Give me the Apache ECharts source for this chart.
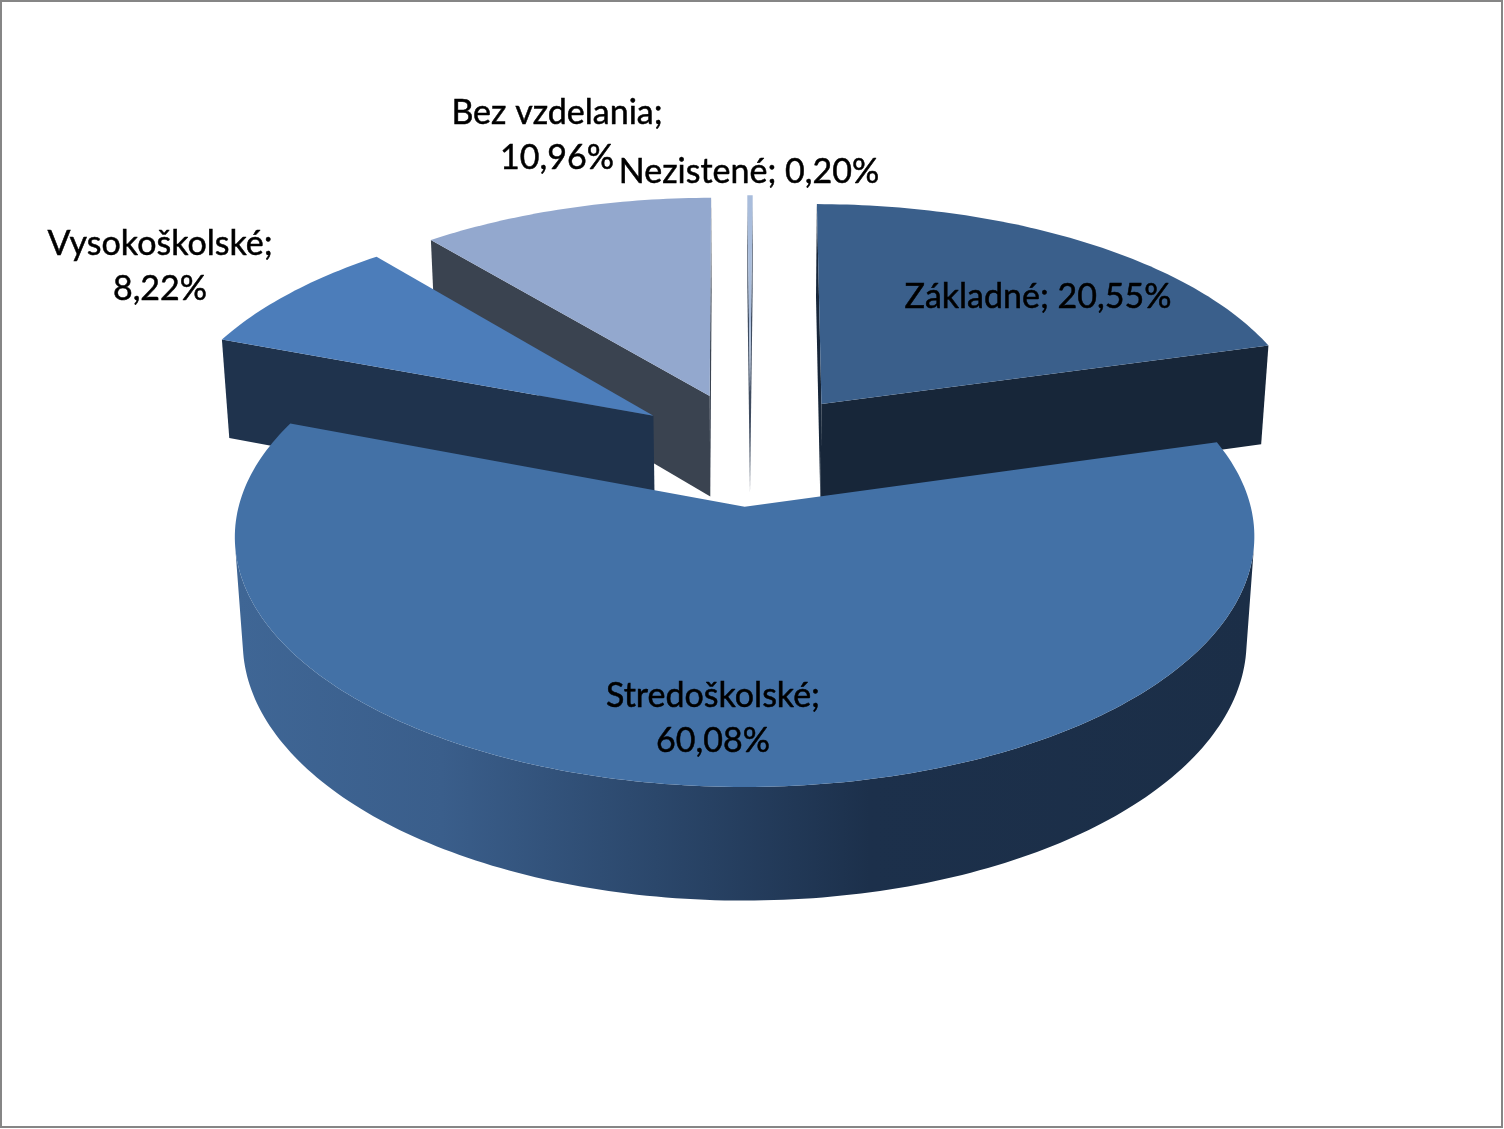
<!DOCTYPE html>
<html>
<head>
<meta charset="utf-8">
<style>html,body{margin:0;padding:0;background:#fff}#c{width:1504px;height:1129px}</style>
<script src="https://cdn.jsdelivr.net/npm/echarts@6/dist/echarts.min.js"></script>
</head>
<body>
<div id="c"></div>
<script>
const categories = ['Základné', 'Stredoškolské', 'Vysokoškolské', 'Bez vzdelania', 'Nezistené'];
const shares = [20.55, 60.08, 8.22, 10.96, 0.20];

const topColors = ['#3A5F8B', '#4371A6', '#4C7DBA', '#93A8CE', '#A9BDDC'];
const wallColors = ['#172639', '#1B2E47', '#1F334D', '#3A4350', '#3F4C60'];
const labelLines = [1, 2, 2, 2, 1];
const labelCenters = [[1038, 297], [713, 719], [160, 267], [557, 136], [749, 172]];

const VIEW = { cx: 750, cy: 448.2, focal: 3722, dist: 7.57, tilt: 28.25 * Math.PI / 180 };
const EXPLODE = 0.245, HEIGHT = 0.24, START_DEG = 0.36;
const sinT = Math.sin(VIEW.tilt), cosT = Math.cos(VIEW.tilt);

function project(x, y, z) {
  const d = VIEW.dist + y * cosT - z * sinT;
  return [VIEW.cx + VIEW.focal * x / d, VIEW.cy - VIEW.focal * (y * sinT + z * cosT) / d];
}
function area(p) {
  let s = 0;
  for (let i = 0; i < p.length; i++) {
    const a = p[i], b = p[(i + 1) % p.length];
    s += a[0] * b[1] - b[0] * a[1];
  }
  return s;
}
const total = shares.reduce((a, b) => a + b, 0);
const startAngles = [];
shares.reduce((acc, v, i) => { startAngles[i] = acc; return acc + v / total * 360; }, START_DEG);

function renderSlice(params, api) {
  const i = params.dataIndex;
  const v = api.value(1);
  const a0 = startAngles[i], a1 = a0 + v / total * 360;
  const mid = (a0 + a1) / 2 * Math.PI / 180;
  const ox = EXPLODE * Math.sin(mid), oy = EXPLODE * Math.cos(mid);
  const rim = [];
  const steps = Math.max(2, Math.ceil(a1 - a0));
  for (let k = 0; k <= steps; k++) {
    const t = (a0 + (a1 - a0) * k / steps) * Math.PI / 180;
    rim.push([ox + Math.sin(t), oy + Math.cos(t)]);
  }
  const apex = [ox, oy];
  const T = p => project(p[0], p[1], 0);
  const B = p => project(p[0], p[1], -HEIGHT);
  const order = Math.round((1 - oy / EXPLODE) * 10) * 10;
  const fill = i === 1
    ? { type: 'linear', x: 238, y: 0, x2: 1257, y2: 0, global: true,
        colorStops: [{ offset: 0, color: '#3F6695' }, { offset: 0.2, color: '#3A5E8B' }, { offset: 0.62, color: '#1C304B' }, { offset: 1, color: wallColors[1] }] }
    : wallColors[i];
  const children = [];
  const addPoly = (pts, color, z) => children.push({ type: 'polygon', z2: order + z, shape: { points: pts }, style: { fill: color } });

  [[apex, rim[0]], [rim[rim.length - 1], apex]].forEach(([a, b]) => {
    const q = [T(a), B(a), B(b), T(b)];
    if (area(q) > 0) addPoly(q, fill, 1);
  });
  let run = [];
  const flush = () => {
    if (run.length > 1) {
      addPoly(run.map(T).concat(run.slice().reverse().map(B)), fill, 2);
    }
    run = [];
  };
  for (let k = 0; k < rim.length - 1; k++) {
    const a = rim[k], b = rim[k + 1];
    if (area([T(a), B(a), B(b), T(b)]) > 0) {
      if (!run.length) run.push(a);
      run.push(b);
    } else flush();
  }
  flush();
  addPoly([T(apex)].concat(rim.map(T)), topColors[i], 3);

  const pct = v.toFixed(2).replace('.', ',') + '%';
  const txt = labelLines[i] === 2 ? categories[i] + ';\n' + pct : categories[i] + '; ' + pct;
  children.push({
    type: 'text', z2: 1000,
    style: { x: labelCenters[i][0], y: labelCenters[i][1], text: txt, align: 'center', verticalAlign: 'middle',
      fill: '#000', stroke: '#000', lineWidth: 0.5, font: '34px Lato, "Open Sans", sans-serif', lineHeight: 45 }
  });
  return { type: 'group', children };
}

const chart = echarts.init(document.getElementById('c'), null, { renderer: 'canvas' });
chart.setOption({
  animation: false,
  backgroundColor: '#fff',
  graphic: [{ type: 'rect', shape: { x: 1, y: 1, width: 1501, height: 1126 }, style: { fill: 'none', stroke: '#868686', lineWidth: 2 }, silent: true }],
  series: [{
    type: 'custom',
    coordinateSystem: 'none',
    renderItem: renderSlice,
    data: shares.map((v, i) => [i, v])
  }]
});
</script>
</body>
</html>
